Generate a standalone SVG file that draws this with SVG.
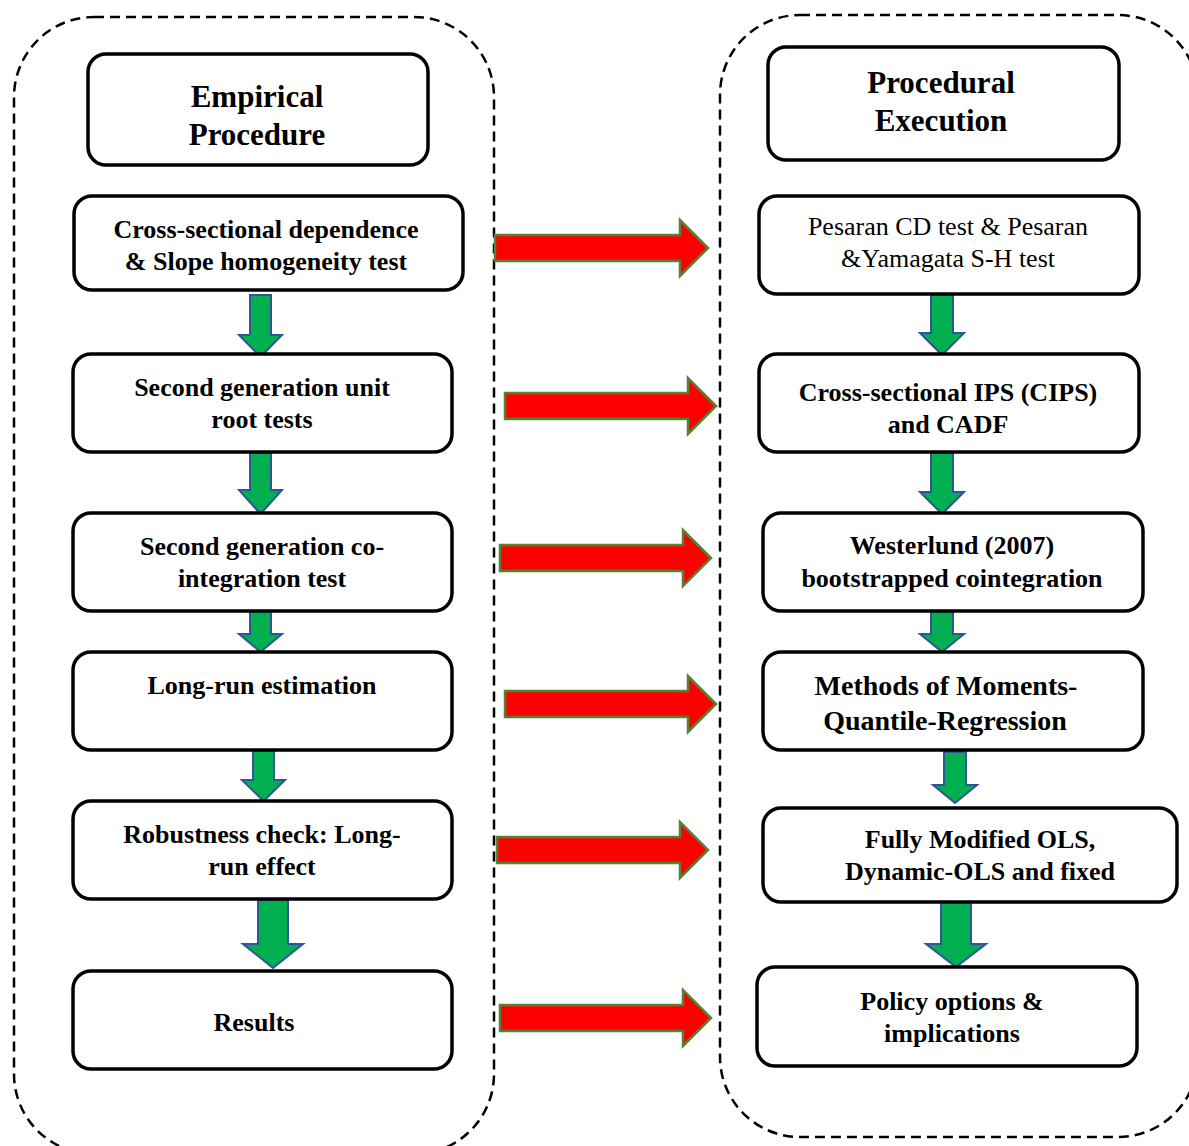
<svg xmlns="http://www.w3.org/2000/svg" width="1189" height="1146" viewBox="0 0 1189 1146">
<style>
.cont{fill:none;stroke:#000;stroke-width:2.5;stroke-dasharray:10,6}
.box{fill:#fff;stroke:#000;stroke-width:3.5}
.t{font-family:"Liberation Serif","Times New Roman",serif;font-weight:bold;font-size:26px;fill:#000;text-anchor:middle}
.n{font-weight:normal}
.h{font-size:31px}
.m{font-size:28px}
.red{fill:#FF0000;stroke:#548235;stroke-width:2.5}
.grn{fill:#00B050;stroke:#2F5597;stroke-width:2}
</style>
<rect width="1189" height="1146" fill="#fff"/>
<g id="containers">
<rect class="cont" x="14" y="17" width="480" height="1137" rx="80" ry="80"/>
<rect class="cont" x="720" y="15" width="478" height="1122" rx="80" ry="80"/>
</g>
<g id="connectors">
<polygon class="red" points="495,235 680,235 680,220 708,248 680,276 680,261 495,261"/>
<polygon class="red" points="505,393 688,393 688,378 716,406 688,434 688,419 505,419"/>
<polygon class="red" points="500,545 683,545 683,530 711,558 683,586 683,571 500,571"/>
<polygon class="red" points="505,691 688,691 688,676 716,704 688,732 688,717 505,717"/>
<polygon class="red" points="497,837 680,837 680,822 708,850 680,878 680,863 497,863"/>
<polygon class="red" points="500,1005 683,1005 683,990 711,1018 683,1046 683,1031 500,1031"/>
<polygon class="grn" points="250,295 271,295 271,335 282,335 260.5,357 239,335 250,335"/>
<polygon class="grn" points="250,453 271,453 271,490 282,490 260.5,514 239,490 250,490"/>
<polygon class="grn" points="250,611 271,611 271,634 282,634 260.5,652 239,634 250,634"/>
<polygon class="grn" points="253,751 274,751 274,780 285,780 263.5,801 242,780 253,780"/>
<polygon class="grn" points="258,900 288,900 288,944 303,944 273,968 243,944 258,944"/>
<polygon class="grn" points="931,295 953,295 953,333 964,333 942,355 920,333 931,333"/>
<polygon class="grn" points="931,453 953,453 953,492 964,492 942,514 920,492 931,492"/>
<polygon class="grn" points="931,611 953,611 953,634 964,634 942,652 920,634 931,634"/>
<polygon class="grn" points="944,752 966,752 966,785 977,785 955,803 933,785 944,785"/>
<polygon class="grn" points="941,902 971,902 971,944 986,944 956,967 926,944 941,944"/>
</g>
<g id="n-empirical">
<rect class="box" x="88" y="54" width="340" height="111" rx="18"/>
<text class="t h" x="257" y="107">Empirical</text>
<text class="t h" x="257" y="145">Procedure</text>
</g>
<g id="n-csd">
<rect class="box" x="74" y="196" width="389" height="94" rx="18"/>
<text class="t" x="266" y="238">Cross-sectional dependence</text>
<text class="t" x="266" y="270">&amp; Slope homogeneity test</text>
</g>
<g id="n-unitroot">
<rect class="box" x="73" y="354" width="379" height="98" rx="18"/>
<text class="t" x="262" y="396">Second generation unit</text>
<text class="t" x="262" y="428">root tests</text>
</g>
<g id="n-coint">
<rect class="box" x="73" y="513" width="379" height="98" rx="18"/>
<text class="t" x="262" y="555">Second generation co-</text>
<text class="t" x="262" y="587">integration test</text>
</g>
<g id="n-longrun">
<rect class="box" x="73" y="652" width="379" height="98" rx="18"/>
<text class="t" x="262" y="694">Long-run estimation</text>
</g>
<g id="n-robust">
<rect class="box" x="73" y="801" width="379" height="98" rx="18"/>
<text class="t" x="262" y="843">Robustness check: Long-</text>
<text class="t" x="262" y="875">run effect</text>
</g>
<g id="n-results">
<rect class="box" x="73" y="971" width="379" height="98" rx="18"/>
<text class="t" x="254" y="1031">Results</text>
</g>
<g id="n-procedural">
<rect class="box" x="768" y="47" width="351" height="113" rx="18"/>
<text class="t h" x="941" y="93">Procedural</text>
<text class="t h" x="941" y="131">Execution</text>
</g>
<g id="n-pesaran">
<rect class="box" x="759" y="196" width="380" height="98" rx="18"/>
<text class="t n" x="948" y="235">Pesaran CD test &amp; Pesaran</text>
<text class="t n" x="948" y="267">&amp;Yamagata S-H test</text>
</g>
<g id="n-cips">
<rect class="box" x="759" y="354" width="380" height="98" rx="18"/>
<text class="t" x="948" y="401">Cross-sectional IPS (CIPS)</text>
<text class="t" x="948" y="433">and CADF</text>
</g>
<g id="n-westerlund">
<rect class="box" x="763" y="513" width="380" height="98" rx="18"/>
<text class="t" x="952" y="554">Westerlund (2007)</text>
<text class="t" x="952" y="587">bootstrapped cointegration</text>
</g>
<g id="n-mmqr">
<rect class="box" x="763" y="652" width="380" height="98" rx="18"/>
<text class="t m" x="946" y="695">Methods of Moments-</text>
<text class="t m" x="945" y="730">Quantile-Regression</text>
</g>
<g id="n-fmols">
<rect class="box" x="763" y="808" width="414" height="94" rx="18"/>
<text class="t" x="980" y="848">Fully Modified OLS,</text>
<text class="t" x="980" y="880">Dynamic-OLS and fixed</text>
</g>
<g id="n-policy">
<rect class="box" x="757" y="967" width="380" height="99" rx="18"/>
<text class="t" x="952" y="1010">Policy options &amp;</text>
<text class="t" x="952" y="1042">implications</text>
</g>
</svg>
